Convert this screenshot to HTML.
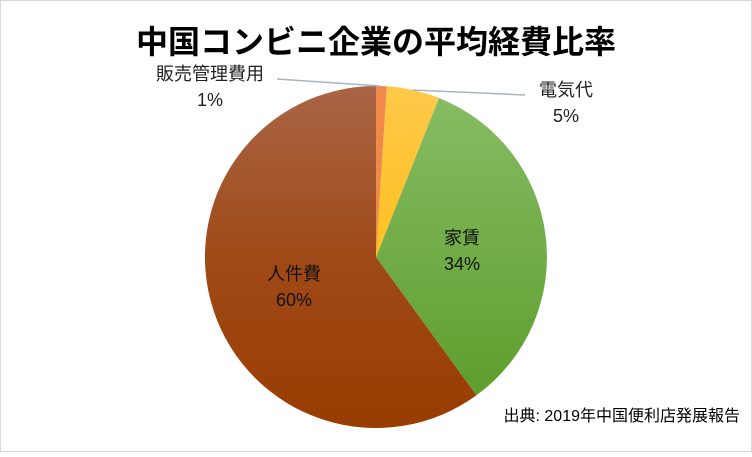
<!DOCTYPE html>
<html><head><meta charset="utf-8"><style>
body{margin:0;background:#fff}
svg text{font-family:"Liberation Sans","Noto Sans CJK JP",sans-serif}
</style></head><body>
<svg width="752" height="452" viewBox="0 0 752 452" xmlns="http://www.w3.org/2000/svg">
<defs>
<linearGradient id="br" x1="0" y1="0" x2="0" y2="1"><stop offset="0" stop-color="#A96545"/><stop offset="0.5" stop-color="#A04A18"/><stop offset="1" stop-color="#983C00"/></linearGradient>
<linearGradient id="gr" x1="0" y1="0" x2="0" y2="1"><stop offset="0" stop-color="#86BC62"/><stop offset="1" stop-color="#5E9E2E"/></linearGradient>
<linearGradient id="ye" x1="0" y1="0" x2="0" y2="1"><stop offset="0" stop-color="#FFC84A"/><stop offset="1" stop-color="#FFC020"/></linearGradient>
</defs>
<rect x="0.5" y="0.5" width="751" height="451" fill="#fff" stroke="#d9d9d9"/>
<text x="376" y="53" text-anchor="middle" font-size="32" font-weight="bold" fill="#000">中国コンビニ企業の平均経費比率</text>
<path d="M376,257 L476.5,395.3 A171,171 0 1 1 376,86 Z" fill="url(#br)"/>
<path d="M376,257 L438.9,98 A171,171 0 0 1 476.5,395.3 Z" fill="url(#gr)"/>
<path d="M376,257 L386.7,86.3 A171,171 0 0 1 438.9,98 Z" fill="url(#ye)"/>
<path d="M376,257 L376,86 A171,171 0 0 1 386.7,86.3 Z" fill="#F08A4A"/>
<polyline points="277,79 380,86" stroke="#A6B4C4" stroke-width="1.5" fill="none"/>
<polyline points="413,90 525,95" stroke="#A6B4C4" stroke-width="1.5" fill="none"/>
<text x="210" y="80" text-anchor="middle" font-size="18" fill="#222">販売管理費用</text>
<text x="210" y="106" text-anchor="middle" font-size="18" fill="#222">1%</text>
<text x="566" y="96" text-anchor="middle" font-size="18" fill="#222">電気代</text>
<text x="566" y="122" text-anchor="middle" font-size="18" fill="#222">5%</text>
<text x="462" y="244" text-anchor="middle" font-size="18" fill="#111">家賃</text>
<text x="462" y="270" text-anchor="middle" font-size="18" fill="#111">34%</text>
<text x="294" y="280" text-anchor="middle" font-size="18" fill="#111">人件費</text>
<text x="294" y="306" text-anchor="middle" font-size="18" fill="#111">60%</text>
<text x="740" y="421" text-anchor="end" font-size="16" fill="#000">出典: 2019年中国便利店発展報告</text>
</svg>
</body></html>
